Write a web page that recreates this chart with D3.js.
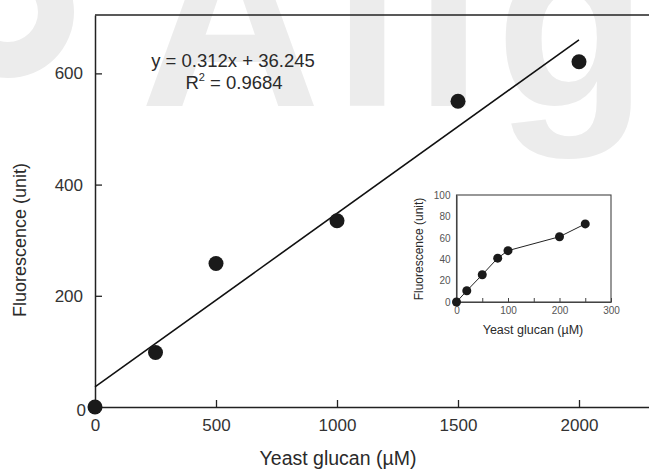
<!DOCTYPE html>
<html>
<head>
<meta charset="utf-8">
<script src="https://cdn.jsdelivr.net/npm/d3@7"></script>
<style>
  body { margin: 0; background: #fff; }
  text { font-family: "Liberation Sans", Arial, sans-serif; fill: #2a2a2a; }
</style>
</head>
<body>
<div id="chart"></div>
<script>
// main data
var glucan = [0, 250, 500, 1000, 1500, 2000]
var fluor = [0, 98, 258, 335, 550, 621]
var xTicks = [0, 500, 1000, 1500, 2000]
var yTicks = [0, 200, 400, 600]
var fit = { slope: 0.312, icpt: 36.245 }

// inset data
var glucanIn = [0, 20, 50, 80, 100, 200, 250]
var fluorIn = [0, 10.5, 25.5, 41, 48, 61, 73]
var xTicksIn = [0, 50, 100, 150, 200, 250, 300]
var yTicksIn = [0, 20, 40, 60, 80, 100]

var W = 649, H = 469
var svg = d3.select("#chart").append("svg")
    .attr("width", W).attr("height", H)

// watermark
var wm = svg.append("g").attr("fill", "#ececec")
wm.append("path")
    .attr("d", d3.arc().innerRadius(30).outerRadius(66).startAngle(0).endAngle(2 * Math.PI))
    .attr("transform", "translate(8,12)")
wm.append("text")
    .attr("x", 140).attr("y", 106)
    .style("font-family", "Liberation Sans, Arial, sans-serif")
    .style("font-weight", "bold")
    .style("font-size", "250px")
    .style("letter-spacing", "12px")
    .style("fill", "#ececec")
    .text("Align")

var x = d3.scaleLinear().domain([0, 2300]).range([95, 95 + 2300 * 0.242])
var y = d3.scaleLinear().domain([0, 705]).range([407, 15])

// top border
svg.append("line")
    .attr("x1", x(0)).attr("x2", W)
    .attr("y1", y(705)).attr("y2", y(705))
    .attr("stroke", "#222").attr("stroke-width", 1.5)

var xa = svg.append("g")
    .attr("transform", "translate(0," + y(0) + ")")
    .call(d3.axisBottom(x).tickValues(xTicks).tickFormat(d3.format("d"))
        .tickSizeInner(-7).tickSizeOuter(0).tickPadding(12))
var ya = svg.append("g")
    .attr("transform", "translate(" + x(0) + ",0)")
    .call(d3.axisLeft(y).tickValues(yTicks).tickFormat(d3.format("d"))
        .tickSizeInner(-7).tickSizeOuter(0).tickPadding(12))

;[xa, ya].forEach(function (a) {
    a.select(".domain").attr("stroke", "#222").attr("stroke-width", 1.5)
    a.selectAll(".tick line").attr("stroke", "#222").attr("stroke-width", 1.3)
    a.selectAll("text").style("font-size", "17px").style("fill", "#333")
})
ya.selectAll(".tick text").filter(function (d) { return d === 0 }).attr("x", -9).attr("dy", "0.5em")

// regression line
svg.append("line")
    .attr("x1", x(0)).attr("y1", y(fit.icpt))
    .attr("x2", x(2000)).attr("y2", y(fit.slope * 2000 + fit.icpt))
    .attr("stroke", "#111").attr("stroke-width", 1.6)

svg.selectAll("mainpt")
    .data(glucan)
    .enter()
    .append("circle")
        .attr("cx", function (d) { return x(d) })
        .attr("cy", function (d, i) { return y(fluor[i]) })
        .attr("r", 7.5)
        .attr("fill", "#1a1a1a")

// equation
svg.append("text")
    .attr("x", 233).attr("y", 67)
    .attr("text-anchor", "middle")
    .style("font-size", "18.5px")
    .text("y = 0.312x + 36.245")
var r2 = svg.append("text")
    .attr("x", 234).attr("y", 89)
    .attr("text-anchor", "middle")
    .style("font-size", "18.5px")
r2.append("tspan").text("R")
r2.append("tspan").attr("dy", -8).style("font-size", "11px").text("2")
r2.append("tspan").attr("dy", 8).text(" = 0.9684")

// axis titles
svg.append("text")
    .attr("x", 338).attr("y", 465)
    .attr("text-anchor", "middle")
    .style("font-size", "19.5px")
    .text("Yeast glucan (\u00b5M)")
svg.append("text")
    .attr("transform", "translate(26,240) rotate(-90)")
    .attr("text-anchor", "middle")
    .style("font-size", "18px")
    .text("Fluorescence (unit)")

// inset
var ix = d3.scaleLinear().domain([0, 300]).range([456.5, 611])
var iy = d3.scaleLinear().domain([0, 100]).range([302, 195])

svg.append("rect")
    .attr("x", ix(0)).attr("y", iy(100))
    .attr("width", ix(300) - ix(0)).attr("height", iy(0) - iy(100))
    .attr("fill", "#fff").attr("stroke", "#444").attr("stroke-width", 1.1)

var ixa = svg.append("g")
    .attr("transform", "translate(0," + iy(0) + ")")
    .call(d3.axisBottom(ix).tickValues(xTicksIn).tickSizeInner(-4).tickSizeOuter(0).tickPadding(5)
        .tickFormat(function (d) { return d % 100 === 0 ? d : "" }))
var iya = svg.append("g")
    .attr("transform", "translate(" + ix(0) + ",0)")
    .call(d3.axisLeft(iy).tickValues(yTicksIn).tickSizeInner(0).tickSizeOuter(0).tickPadding(6))
;[ixa, iya].forEach(function (a) {
    a.select(".domain").attr("stroke", "#444").attr("stroke-width", 1.1)
    a.selectAll(".tick line").attr("stroke", "#444")
    a.selectAll("text").style("font-size", "10px").style("fill", "#555")
})

svg.append("path")
    .datum(glucanIn)
    .attr("d", d3.line()
        .x(function (d) { return ix(d) })
        .y(function (d, i) { return iy(fluorIn[i]) }))
    .attr("fill", "none").attr("stroke", "#222").attr("stroke-width", 1)

svg.selectAll("inpt")
    .data(glucanIn)
    .enter()
    .append("circle")
        .attr("cx", function (d) { return ix(d) })
        .attr("cy", function (d, i) { return iy(fluorIn[i]) })
        .attr("r", 4.5)
        .attr("fill", "#1a1a1a")

svg.append("text")
    .attr("x", 533).attr("y", 334)
    .attr("text-anchor", "middle")
    .style("font-size", "12.5px")
    .text("Yeast glucan (\u00b5M)")
svg.append("text")
    .attr("transform", "translate(423,249) rotate(-90)")
    .attr("text-anchor", "middle")
    .style("font-size", "12px")
    .text("Fluorescence (unit)")
</script>
</body>
</html>
